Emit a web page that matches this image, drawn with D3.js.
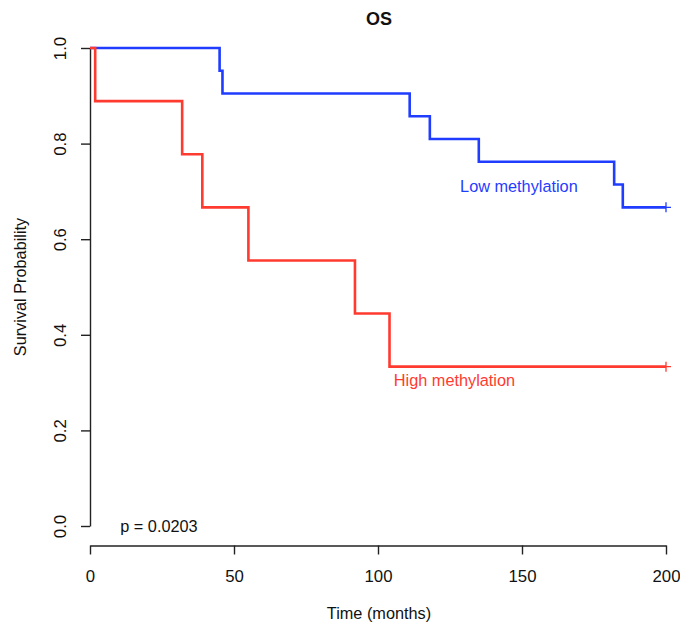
<!DOCTYPE html>
<html>
<head>
<meta charset="utf-8">
<script src="https://cdn.jsdelivr.net/npm/d3@7"></script>
<style>
  body { margin: 0; background: #fff; }
  svg text { font-family: "Liberation Sans", Arial, sans-serif; }
</style>
</head>
<body>
<svg id="drawing_region"></svg>
<script>
// Kaplan-Meier step data (time in months, survival)
const lowTimes = [0, 45, 46, 111, 118, 135, 182, 185];
const lowSurv  = [1, 20/21, 19/21, 18/21, 17/21, 16/21, 15/21, 14/21];
const lowCensor = [200];

const highTimes = [0, 1.8, 32, 39, 55, 92, 104];
const highSurv  = [1, 8/9, 7/9, 6/9, 5/9, 4/9, 3/9];
const highCensor = [200];

const xTicks = [0, 50, 100, 150, 200];
const yTicks = [0, 0.2, 0.4, 0.6, 0.8, 1.0];

const config = {
    width: 680,
    height: 627,
    margin: {top: 48, right: 14, bottom: 101, left: 90}
};

const svg = d3.select('#drawing_region')
    .attr('width', config.width)
    .attr('height', config.height);

const chart = svg.append('g')
    .attr('transform', `translate(${config.margin.left}, ${config.margin.top})`);

const xscale = d3.scaleLinear().domain([0, 200]).range([0, 576]);
const yscale = d3.scaleLinear().domain([0, 1]).range([478, 0]);

// axes, R style (detached from plot)
const xaxis = d3.axisBottom(xscale)
    .tickValues(xTicks)
    .tickSize(9)
    .tickPadding(16)
    .tickSizeOuter(0);
const xaxis_group = chart.append('g')
    .attr('transform', `translate(0, ${497.5})`)
    .call(xaxis);

const yaxis = d3.axisLeft(yscale)
    .tickValues(yTicks)
    .tickFormat(d3.format('.1f'))
    .tickSize(9)
    .tickSizeOuter(0);
const yaxis_group = chart.append('g')
    .call(yaxis);

[xaxis_group, yaxis_group].forEach(g => {
    g.select('.domain').attr('stroke', '#222').attr('stroke-width', 1.4);
    g.selectAll('.tick line').attr('stroke', '#222').attr('stroke-width', 1.4);
    g.selectAll('.tick text').attr('font-size', 16.8).attr('fill', '#111')
        .style('font-family', '"Liberation Sans", Arial, sans-serif');
});

yaxis_group.selectAll('.tick text')
    .attr('transform', 'rotate(-90)')
    .attr('x', 0)
    .attr('y', -30)
    .attr('dy', '0.35em')
    .attr('text-anchor', 'middle');

// step lines
function stepPoints(times, surv, end) {
    const pts = times.map((t, i) => [t, surv[i]]);
    pts.push([end, surv[surv.length - 1]]);
    return pts;
}
const line = d3.line()
    .x(d => xscale(d[0]))
    .y(d => yscale(d[1]))
    .curve(d3.curveStepAfter);

const series = [
    {times: lowTimes, surv: lowSurv, censor: lowCensor, color: '#1f3cff'},
    {times: highTimes, surv: highSurv, censor: highCensor, color: '#ff3b30'}
];

series.forEach(s => {
    chart.append('path')
        .attr('d', line(stepPoints(s.times, s.surv, s.censor[0])))
        .attr('stroke', s.color)
        .attr('stroke-width', 2.6)
        .attr('fill', 'none');
    const last = s.surv[s.surv.length - 1];
    s.censor.forEach(c => {
        const cx = xscale(c), cy = yscale(last);
        chart.append('path')
            .attr('d', `M${cx - 5},${cy}H${cx + 5}M${cx},${cy - 5}V${cy + 5}`)
            .attr('stroke', s.color)
            .attr('stroke-width', 1.3);
    });
});

// labels
chart.append('text')
    .attr('x', xscale(128.5))
    .attr('y', yscale(0.76) + 29)
    .attr('font-size', 16.3)
    .attr('fill', '#1f3cff')
    .text('Low methylation');

chart.append('text')
    .attr('x', xscale(105.5))
    .attr('y', yscale(1/3) + 19)
    .attr('font-size', 16.3)
    .attr('fill', '#ff3b30')
    .text('High methylation');

chart.append('text')
    .attr('x', xscale(10.5))
    .attr('y', yscale(0) + 6)
    .attr('font-size', 16.3)
    .attr('fill', '#111')
    .text('p = 0.0203');

// title and axis titles
svg.append('text')
    .attr('x', 379)
    .attr('y', 25)
    .attr('text-anchor', 'middle')
    .attr('font-size', 18)
    .attr('font-weight', 'bold')
    .attr('fill', '#111')
    .text('OS');

svg.append('text')
    .attr('x', 379)
    .attr('y', 619)
    .attr('text-anchor', 'middle')
    .attr('font-size', 16.3)
    .attr('fill', '#111')
    .text('Time (months)');

svg.append('text')
    .attr('transform', `translate(26, 287) rotate(-90)`)
    .attr('text-anchor', 'middle')
    .attr('font-size', 16.3)
    .attr('fill', '#111')
    .text('Survival Probability');
</script>
</body>
</html>
